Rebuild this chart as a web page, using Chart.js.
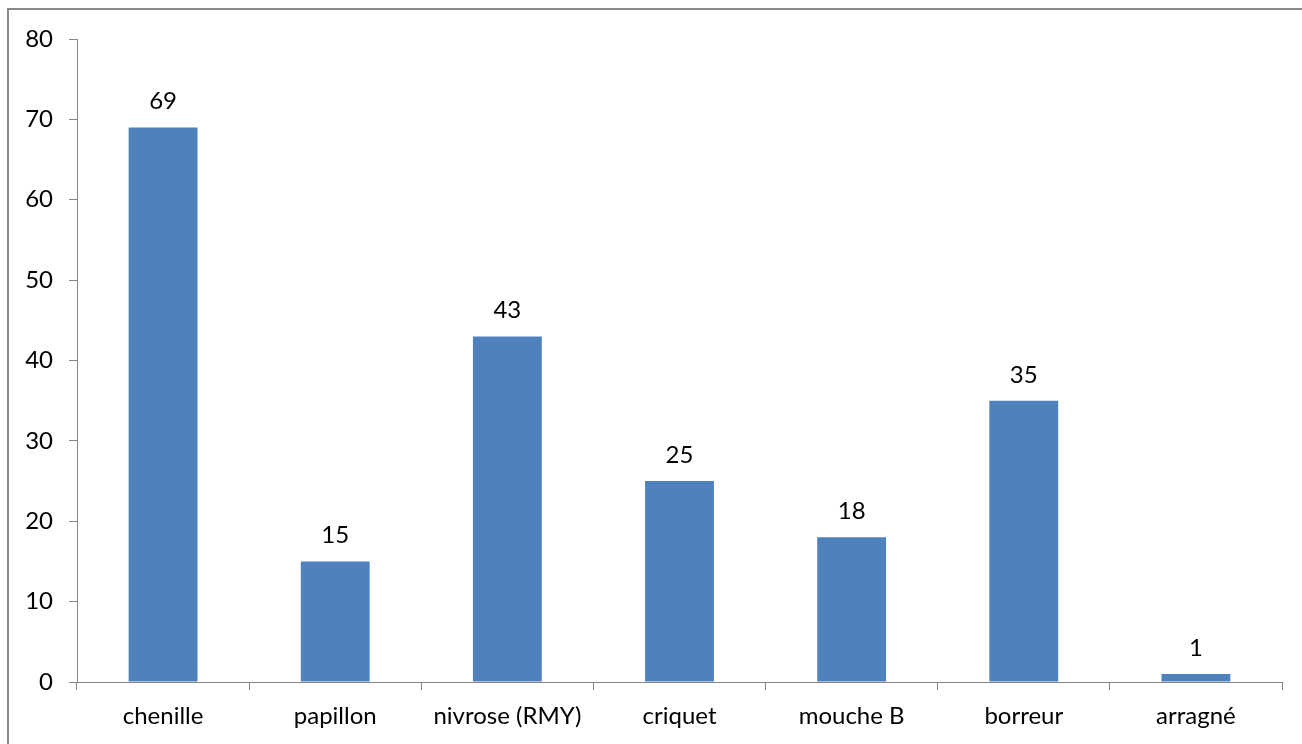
<!DOCTYPE html>
<html>
<head>
<meta charset="utf-8">
<script src="https://cdn.jsdelivr.net/npm/chart.js@4"></script>
<style>
  html, body { margin: 0; padding: 0; background: #fff; overflow: hidden; }
  #frame { position: absolute; left: 7px; top: 8px; width: 1400px; height: 800px;
           border-top: 2px solid #8a8a8a; border-left: 2px solid #8a8a8a; }
  #wrap { position: absolute; left: 0; top: 0; width: 1302px; height: 744px; }
</style>
</head>
<body>
<div id="frame"></div>
<div id="wrap"><canvas id="bar-chart"></canvas></div>
<script>
// insect counts per category
var categories = ["chenille", "papillon", "nivrose (RMY)", "criquet", "mouche B", "borreur", "arragné"];
var counts = [69, 15, 43, 25, 18, 35, 1];
var yTicks = [0, 10, 20, 30, 40, 50, 60, 70, 80];

var FONT = { family: "Lato, 'Open Sans', sans-serif", size: 24 };

// write each value above its bar
var valueLabels = {
  id: 'valueLabels',
  afterDatasetsDraw: function (chart) {
    var ctx = chart.ctx;
    var meta = chart.getDatasetMeta(0);
    ctx.save();
    ctx.font = FONT.size + "px " + FONT.family;
    ctx.fillStyle = "#000";
    ctx.textAlign = "center";
    ctx.textBaseline = "alphabetic";
    meta.data.forEach(function (bar, i) {
      ctx.fillText(counts[i], bar.x, bar.y - 18);
    });
    ctx.restore();
  }
};

new Chart(document.getElementById("bar-chart"), {
  type: 'bar',
  data: {
    labels: categories,
    datasets: [{
      data: counts,
      backgroundColor: "#4f81bd",
      borderWidth: 0,
      categoryPercentage: 0.8,
      barPercentage: 0.5
    }]
  },
  options: {
    responsive: true,
    maintainAspectRatio: false,
    animation: false,
    layout: { padding: { top: 39, right: 20, left: 0, bottom: 0 } },
    plugins: { legend: { display: false }, tooltip: { enabled: false } },
    scales: {
      x: {
        grid: { offset: true, drawOnChartArea: false, color: "#868686", tickLength: 8, lineWidth: 1 },
        border: { color: "#868686", width: 1 },
        ticks: { color: "#000", font: FONT, padding: 12, maxRotation: 0 },
        afterFit: function (s) { s.height = 62; }
      },
      y: {
        min: 0, max: 80,
        afterBuildTicks: function (s) { s.ticks = yTicks.map(function (v) { return { value: v }; }); },
        grid: { drawOnChartArea: false, color: "#868686", tickLength: 8 },
        border: { color: "#868686", width: 1 },
        ticks: { color: "#000", font: FONT, padding: 16 },
        afterFit: function (s) { s.width = 77; }
      }
    }
  },
  plugins: [valueLabels]
});
</script>
</body>
</html>
